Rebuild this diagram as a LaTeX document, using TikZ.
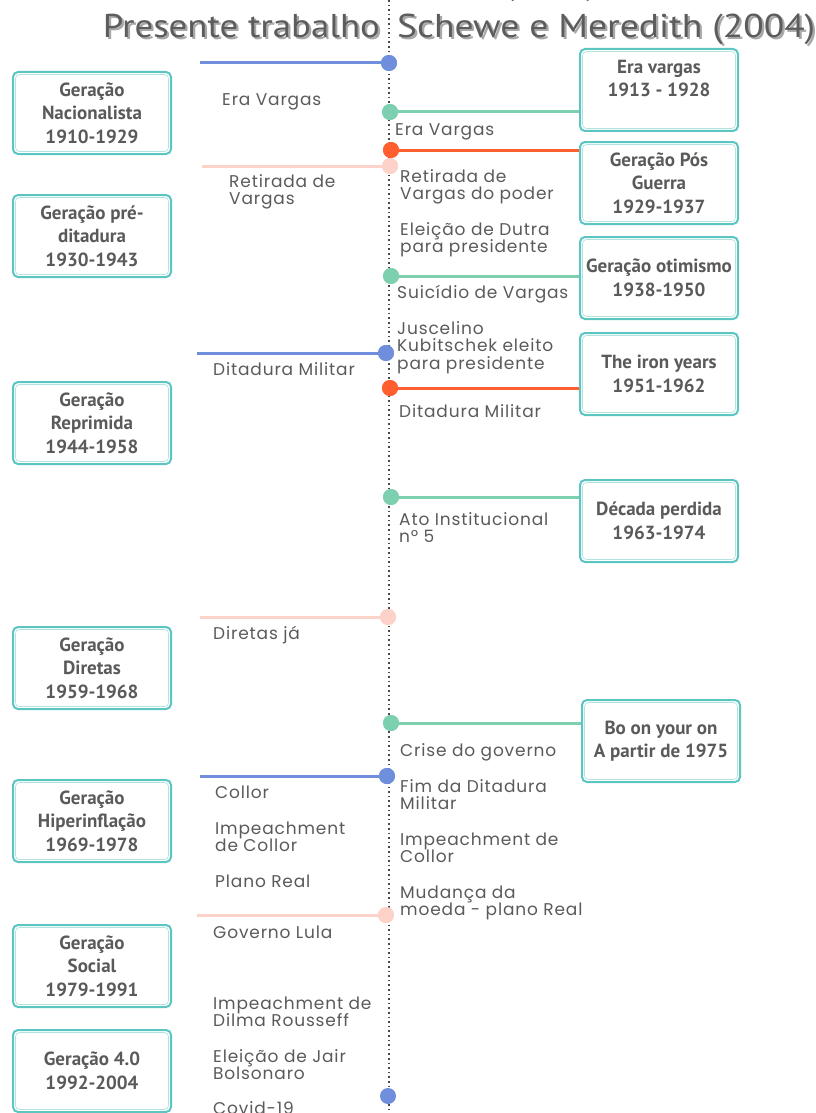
\documentclass[tikz,border=0pt]{standalone}
\usepackage{fontspec}
\usepackage{graphicx}
\setmainfont{Poppins}
\newfontfamily\bodyf{Poppins}[LetterSpace=5]
\newfontfamily\boxf{PT Sans}
\newfontfamily\titlef{PT Sans}
\definecolor{teal}{HTML}{5BC5C2}
\definecolor{teallight}{HTML}{B2E3E0}
\definecolor{cblue}{HTML}{6F8FDD}
\definecolor{cgreen}{HTML}{7DD0AF}
\definecolor{corange}{HTML}{FF5F2E}
\definecolor{cpink}{HTML}{FDD2C8}
\definecolor{txt}{HTML}{5A5A5A}
\definecolor{ttl}{HTML}{5C5C5C}
\definecolor{shadowc}{HTML}{A8A8A8}
\begin{document}
\begin{tikzpicture}[x=1pt,y=-1pt,
  lab/.style={anchor=north west, inner sep=0pt, align=left, text=txt,
    font=\bodyf\fontsize{17}{17.5}\selectfont},
  gbox/.style={draw=teal, line width=2pt, rounded corners=5pt, minimum width=158pt,
    minimum height=82pt, align=center, text=txt, inner sep=0pt,
    font=\boxf\bfseries\fontsize{19}{23.5}\selectfont},
  dotn/.style={circle, inner sep=0pt, minimum size=16pt},
  conn/.style={line width=3pt},
  titl/.style={inner sep=0pt, text=ttl, font=\titlef\fontsize{33}{33}\selectfont},
]
\useasboundingbox (0,0) rectangle (816,1113);
\newcommand{\st}{\rule{0pt}{13pt}}
\newcommand{\shd}[1]{\makebox[0pt][l]{\hspace{2pt}\raisebox{-2pt}{\textcolor{shadowc}{#1}}}#1}
\newcommand{\ta}[1]{\resizebox{277pt}{\height}{\shd{#1}}}
\newcommand{\tb}[1]{\resizebox{418pt}{\height}{\shd{#1}}}
% axis
\coordinate (axtop) at (389,0);
\coordinate (axbot) at (389,1113);
\draw[txt!80!black, line width=1.4pt, dash pattern=on 1.6pt off 3pt] (axtop) -- (axbot);
% title
\node[titl, anchor=base east] (t1) at (380,38) {\ta{Presente trabalho}};
\node[titl, anchor=base west] (t2) at (397,38) {\tb{Schewe e Meredith (2004)}};
\node[titl, anchor=base west] (t0) at (505,-5) {(\phantom{2004})};
% left boxes
\node[gbox] (l1) at (92,113) {Geração\\Nacionalista\\1910-1929};
\node[gbox] (l2) at (92,236) {Geração pré-\\ditadura\\1930-1943};
\node[gbox] (l3) at (92,423) {Geração\\Reprimida\\1944-1958};
\node[gbox] (l4) at (92,668) {Geração\\Diretas\\1959-1968};
\node[gbox] (l5) at (92,821) {Geração\\Hiperinflação\\1969-1978};
\node[gbox] (l6) at (92,966) {Geração\\Social\\1979-1991};
\node[gbox] (l7) at (92,1071) {Geração 4.0\\1992-2004};
% right boxes
\node[gbox] (r1) at (659,90) {Era vargas\\1913 - 1928\\\mbox{}};
\node[gbox] (r2) at (659,183) {Geração Pós\\Guerra\\1929-1937};
\node[gbox] (r3) at (659,278) {Geração otimismo\\1938-1950};
\node[gbox] (r4) at (659,374) {The iron years\\1951-1962};
\node[gbox] (r5) at (659,521) {Década perdida\\1963-1974};
\node[gbox] (r6) at (661,741) {Bo on your on\\A partir de 1975};
\foreach \b in {l1,l2,l3,l4,l5,l6,l7,r1,r2,r3,r4,r5,r6}{
  \draw[teallight, line width=0.7pt, rounded corners=4pt]
    ([shift={(3.5,3.5)}]\b.north west) rectangle ([shift={(-3.5,-3.5)}]\b.south east);
}
% dots
\node[dotn, fill=cblue] (d1) at (389,63) {};
\node[dotn, fill=cgreen] (d2) at (390,112) {};
\node[dotn, fill=corange] (d3) at (391,150) {};
\node[dotn, fill=cpink] (d4) at (390,166) {};
\node[dotn, fill=cgreen] (d5) at (391,276) {};
\node[dotn, fill=cblue] (d6) at (386,353) {};
\node[dotn, fill=corange] (d7) at (390,388) {};
\node[dotn, fill=cgreen] (d8) at (391,497) {};
\node[dotn, fill=cpink] (d9) at (388,617) {};
\node[dotn, fill=cgreen] (d10) at (391,723) {};
\node[dotn, fill=cblue] (d11) at (387,776) {};
\node[dotn, fill=cpink] (d12) at (386,915) {};
\node[dotn, fill=cblue] (d13) at (388,1096) {};
% left free ends
\coordinate (e1) at (200,63);
\coordinate (e4) at (202,166);
\coordinate (e6) at (197,353);
\coordinate (e9) at (200,617);
\coordinate (e11) at (200,776);
\coordinate (e12) at (197,915);
\draw[conn, cblue] (d1.center) -- (e1);
\draw[conn, cpink] (d4.center) -- (e4);
\draw[conn, cblue] (d6.center) -- (e6);
\draw[conn, cpink] (d9.center) -- (e9);
\draw[conn, cblue] (d11.center) -- (e11);
\draw[conn, cpink] (d12.center) -- (e12);
% right connectors
\draw[conn, cgreen] (d2.center) -- (d2 -| r1.west);
\draw[conn, corange] (d3.center) -- (d3 -| r2.west);
\draw[conn, cgreen] (d5.center) -- (d5 -| r3.west);
\draw[conn, corange] (d7.center) -- (d7 -| r4.west);
\draw[conn, cgreen] (d8.center) -- (d8 -| r5.west);
\draw[conn, cgreen] (d10.center) -- (d10 -| r6.west);
% redraw dots on top
\foreach \d/\c in {d1/cblue,d2/cgreen,d3/corange,d4/cpink,d5/cgreen,d6/cblue,d7/corange,d8/cgreen,d9/cpink,d10/cgreen,d11/cblue,d12/cpink}{
  \fill[\c] (\d) circle (8pt);
}
% left labels
\node[lab] (a1) at (222,92) {\st Era Vargas};
\node[lab] (a2) at (229,174) {\st Retirada de\\Vargas};
\node[lab] (a3) at (213,362) {\st Ditadura Militar};
\node[lab] (a4) at (213,626) {\st Diretas já};
\node[lab] (a5) at (215,785) {\st Collor};
\node[lab] (a6) at (215,821) {\st Impeachment\\de Collor};
\node[lab] (a7) at (215,874) {\st Plano Real};
\node[lab] (a8) at (213,925) {\st Governo Lula};
\node[lab] (a9) at (213,996) {\st Impeachment de\\Dilma Rousseff};
\node[lab] (a10) at (213,1049) {\st Eleição de Jair\\Bolsonaro};
\node[lab] (a11) at (213,1101) {\st Covid-19};
% right labels
\node[lab] (b1) at (395,122) {\st Era Vargas};
\node[lab] (b2) at (400,169) {\st Retirada de\\Vargas do poder};
\node[lab] (b3) at (400,222) {\st Eleição de Dutra\\para presidente};
\node[lab] (b4) at (397,285) {\st Suicídio de Vargas};
\node[lab] (b5) at (397,321) {\st Juscelino\\Kubitschek eleito\\para presidente};
\node[lab] (b6) at (399,404) {\st Ditadura Militar};
\node[lab] (b7) at (399,512) {\st Ato Institucional\\nº 5};
\node[lab] (b8) at (400,743) {\st Crise do governo};
\node[lab] (b9) at (400,779) {\st Fim da Ditadura\\Militar};
\node[lab] (b10) at (400,832) {\st Impeachment de\\Collor};
\node[lab] (b11) at (400,885) {\st Mudança da\\moeda - plano Real};
\end{tikzpicture}
\end{document}
